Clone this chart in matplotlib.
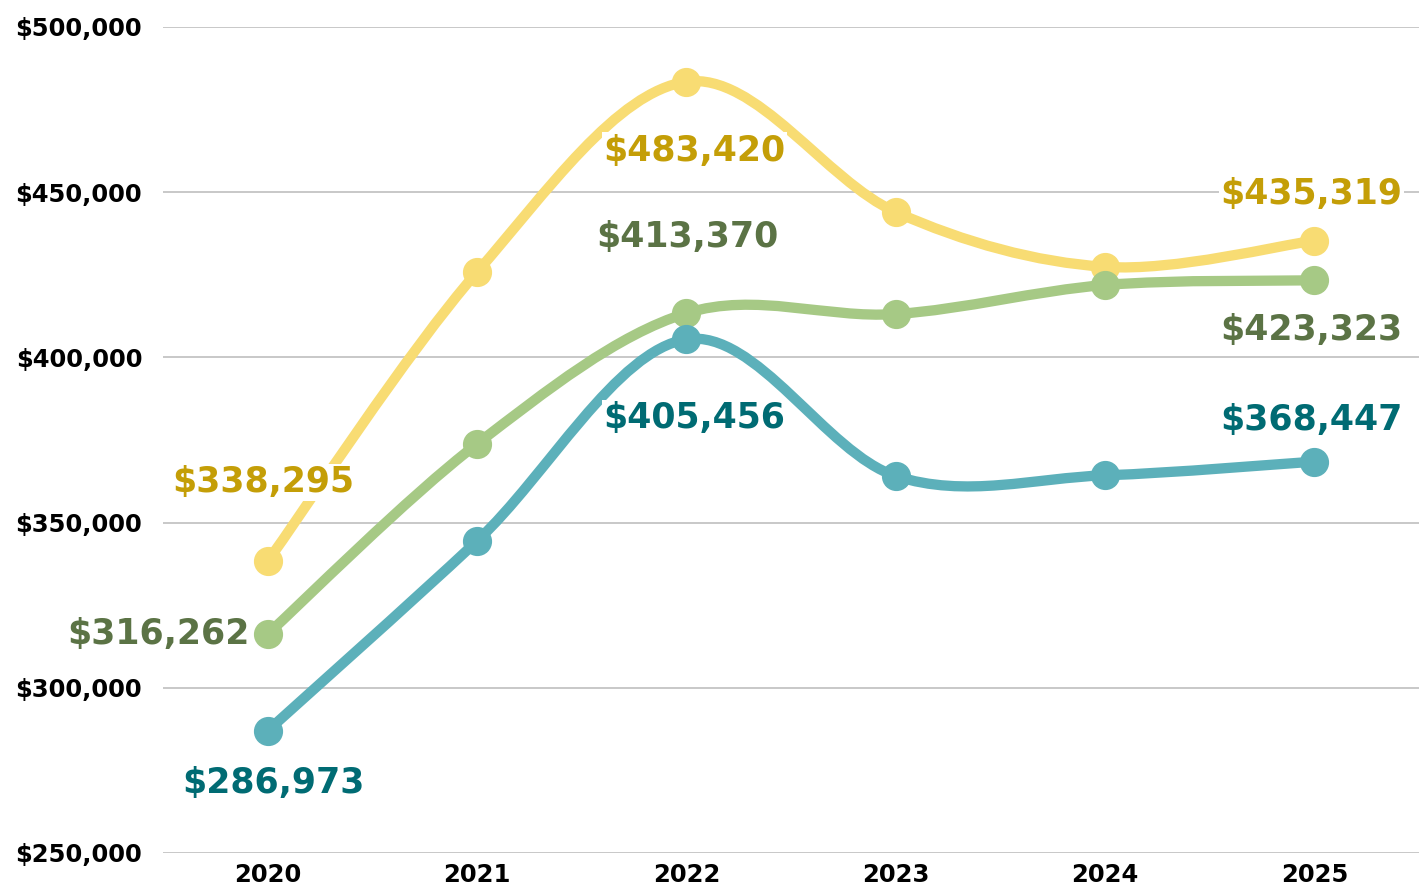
import matplotlib
matplotlib.use("Agg")
import matplotlib.pyplot as plt
from matplotlib.path import Path
from matplotlib.patches import PathPatch
from matplotlib.ticker import FuncFormatter

years = ["2020", "2021", "2022", "2023", "2024", "2025"]
yellow_vals = [338295, 425800, 483420, 444000, 427400, 435319]
green_vals = [316262, 373800, 413370, 413100, 421900, 423323]
teal_vals = [286973, 344400, 405456, 364100, 364300, 368447]

plt.rcParams["font.family"] = ["DejaVu Sans"]
plt.rcParams["font.weight"] = "bold"


def smooth_path(xs, ys):
    # Catmull-Rom style bezier through the data points (like a smoothed line)
    pts = list(zip(xs, ys))
    verts = [pts[0]]
    codes = [Path.MOVETO]
    n = len(pts)
    for i in range(n - 1):
        p0 = pts[i - 1] if i > 0 else pts[i]
        p1 = pts[i]
        p2 = pts[i + 1]
        p3 = pts[i + 2] if i + 2 < n else pts[i + 1]
        c1 = (p1[0] + (p2[0] - p0[0]) / 6, p1[1] + (p2[1] - p0[1]) / 6)
        c2 = (p2[0] - (p3[0] - p1[0]) / 6, p2[1] - (p3[1] - p1[1]) / 6)
        verts += [c1, c2, p2]
        codes += [Path.CURVE4] * 3
    return Path(verts, codes)


fig = plt.figure(figsize=(14.27, 8.90), dpi=100)
ax = fig.add_axes([0.1142, 0.0416, 0.8802, 0.9281])

series = [
    (yellow_vals, "#F8DC73", "#C49E07", [(-79, -4), (69, 8), (-47, -3)]),
    (green_vals, "#A6C985", "#5B7345", [(0, -109), (-76, 1), (50, -3)]),
    (teal_vals, "#5CB0BA", "#006B73", [(52, 6), (79, 8), (-42, -3)]),
]

x = list(range(len(years)))
for vals, line_c, lab_c, offs in series:
    ax.add_patch(PathPatch(smooth_path(x, vals), fill=False, edgecolor=line_c,
                           lw=7.4, capstyle="round", joinstyle="round", zorder=3))
    ax.plot(x, vals, "o", color=line_c, markersize=20, zorder=4)
    for idx, (dy, dx) in zip([0, 2, 5], offs):
        ax.annotate(f"${vals[idx]:,}", (x[idx], vals[idx]),
                    xytext=(dx, -dy), textcoords="offset pixels",
                    ha="center", va="center", fontsize=25, fontweight="bold",
                    color=lab_c, zorder=5,
                    bbox=dict(boxstyle="square,pad=0.05", fc="white", ec="none"))

ax.set_xlim(-0.5, 5.5)
ax.set_ylim(250000, 500000)
ax.set_xticks(x)
ax.set_xticklabels(years)
ax.set_yticks(range(250000, 500001, 50000))
ax.yaxis.set_major_formatter(FuncFormatter(lambda v, p: f"${int(v):,}"))
ax.tick_params(length=0, labelsize=17.5, labelcolor="black")
ax.tick_params(axis="y", pad=15)
ax.tick_params(axis="x", pad=7)
for lab in ax.get_xticklabels() + ax.get_yticklabels():
    lab.set_fontweight("bold")
ax.grid(axis="y", color="#C8C8C8", lw=1.4)
ax.set_axisbelow(True)
for s in ax.spines.values():
    s.set_visible(False)

fig.savefig("out.png", dpi=100)
